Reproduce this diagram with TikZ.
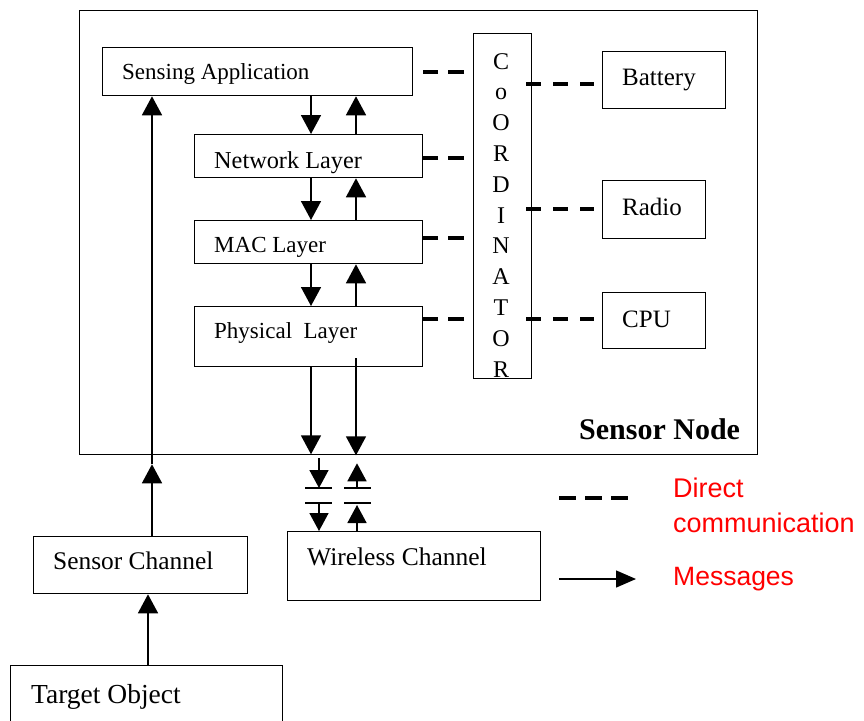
\documentclass[tikz,border=0pt]{standalone}
\usepackage{fontspec}
\setmainfont{Liberation Serif}
\newfontfamily\legfont{Liberation Sans}
\usetikzlibrary{arrows.meta}
\begin{document}
\begin{tikzpicture}[x=1pt,y=-1pt,
  box/.style={draw, line width=1.3pt, inner sep=0, anchor=north west},
  txt/.style={anchor=base west, inner sep=0},
  fsz/.style={font=\fontsize{#1}{#1}\selectfont},
  arr/.style={line width=1.6pt, -{Triangle[length=19pt,width=20pt]}},
  sarr/.style={line width=1.6pt, -{Triangle[length=18pt,width=19pt]}},
  dsh/.style={line width=3.5pt, dash pattern=on 16pt off 10pt},
  bar/.style={line width=1.6pt},
]
\useasboundingbox (0,0) rectangle (864,720);
% boxes
\node[box, minimum width=678pt, minimum height=444pt] (outer) at (79,10) {};
\node[box, minimum width=310pt, minimum height=48pt] (sa) at (102,47) {};
\node[box, minimum width=228pt, minimum height=43pt] (nl) at (194,134) {};
\node[box, minimum width=228pt, minimum height=43pt] (mac) at (194,220) {};
\node[box, minimum width=228pt, minimum height=60pt] (pl) at (194,306) {};
\node[box, minimum width=58pt, minimum height=345pt] (co) at (473,33) {};
\node[box, minimum width=123pt, minimum height=57pt] (bat) at (602,51) {};
\node[box, minimum width=103pt, minimum height=58pt] (rad) at (602,180) {};
\node[box, minimum width=103pt, minimum height=56pt] (cpu) at (602,292) {};
\node[box, minimum width=253pt, minimum height=69pt] (wc) at (287,531) {};
\node[box, minimum width=214pt, minimum height=57pt] (sc) at (33,536) {};
\node[box, minimum width=272pt, minimum height=80pt] (to) at (10,665) {};
% texts
\node[txt, fsz=23] (tsa) at (122,79) {Sensing Application};
\node[txt, fsz=24.3] (tnl) at (214,168) {Network Layer};
\node[txt, fsz=23] (tmac) at (214,252) {MAC Layer};
\node[txt, fsz=23] (tpl) at (214,338) {Physical\ \ Layer};
\node[txt, fsz=25] (tbat) at (622,85) {Battery};
\node[txt, fsz=25] (trad) at (622,215) {Radio};
\node[txt, fsz=25] (tcpu) at (622,327) {CPU};
\node[txt, fsz=25.5] (twc) at (307,565) {Wireless Channel};
\node[txt, fsz=25.4] (tsc) at (53,569) {Sensor Channel};
\node[txt, fsz=27.5] (tto) at (31,703) {Target Object};
\node[txt, fsz=30, font=\fontsize{30}{30}\selectfont\bfseries] (tsn) at (579,439) {Sensor Node};
\foreach \l [count=\i from 0] in {C,o,O,R,D,I,N,A,T,O,R}
  \node[anchor=base, inner sep=0, fsz=24] (co\i) at (501,{69+30.8*\i}) {\l};
% legend
\node[txt, text=red, font=\fontsize{27}{27}\legfont] (lg1) at (673,497) {Direct};
\node[txt, text=red, font=\fontsize{27}{27}\legfont] (lg2) at (673,532) {communication};
\node[txt, text=red, font=\fontsize{26.5}{26.5}\legfont] (lg3) at (673,585) {Messages};
\coordinate (ld1) at (559,498);
\coordinate (ld2) at (629,498);
\draw[line width=3.5pt, dash pattern=on 17pt off 9pt] (ld1) -- (ld2);
\coordinate (la1) at (559,579);
\coordinate (la2) at (636,579);
\draw[line width=1.4pt, -{Triangle[length=20pt,width=17pt]}] (la1) -- (la2);
% x / y reference coordinates
\coordinate (xd) at (311,0);
\coordinate (xu) at (356,0);
\coordinate (xsl) at (319,0);
\coordinate (xsr) at (357,0);
\coordinate (xs) at (152,0);
\coordinate (xt) at (148,0);
\coordinate (b1) at (0,488);
\coordinate (b2) at (0,503);
\coordinate (ysa) at (0,72);
\coordinate (ynl) at (0,158);
\coordinate (ymac) at (0,238);
\coordinate (ypl) at (0,319);
\coordinate (ybat) at (0,84);
\coordinate (yrad) at (0,209);
\coordinate (ycpu) at (0,319);
% layer arrows
\draw[arr] (xd |- sa.south) -- (xd |- nl.north);
\draw[arr] (xu |- nl.north) -- (xu |- sa.south);
\draw[arr] (xd |- nl.south) -- (xd |- mac.north);
\draw[arr] (xu |- mac.north) -- (xu |- nl.south);
\draw[arr] (xd |- mac.south) -- (xd |- pl.north);
\draw[arr] (xu |- pl.north) -- (xu |- mac.south);
\draw[arr] (xd |- pl.south) -- ([yshift=1pt]xd |- outer.south);
\draw[arr] ([yshift=9pt]xu |- pl.south) -- (xu |- outer.south);
% wireless link symbols
\draw[sarr] ([yshift=-3pt]xsl |- outer.south) -- (xsl |- b1);
\draw[bar] ([xshift=-14pt]xsl |- b1) -- ([xshift=13pt]xsl |- b1);
\draw[bar] ([xshift=-14pt]xsl |- b2) -- ([xshift=13pt]xsl |- b2);
\draw[sarr] (xsl |- b2) -- (xsl |- wc.north);
\draw[sarr] (xsr |- b1) -- ([yshift=-8pt]xsr |- outer.south);
\draw[bar] ([xshift=-13pt]xsr |- b1) -- ([xshift=14pt]xsr |- b1);
\draw[bar] ([xshift=-13pt]xsr |- b2) -- ([xshift=14pt]xsr |- b2);
\draw[sarr] (xsr |- wc.north) -- ([yshift=-2pt]xsr |- b2);
% sensing path
\draw[arr] (xs |- sc.north) -- ([yshift=-9pt]xs |- outer.south);
\draw[arr] ([yshift=-9pt]xs |- outer.south) -- (xs |- sa.south);
\draw[arr] (xt |- to.north) -- (xt |- sc.south);
% direct communication
\draw[dsh] ([xshift=-9pt]co.west |- ysa) -- ([xshift=10pt]sa.east |- ysa);
\draw[dsh] ([xshift=-9pt]co.west |- ynl) -- (nl.east |- ynl);
\draw[dsh] ([xshift=-9pt]co.west |- ymac) -- (mac.east |- ymac);
\draw[dsh] ([xshift=-9pt]co.west |- ypl) -- (pl.east |- ypl);
\draw[dsh, dash pattern=on 15pt off 12pt] ([xshift=-6pt]co.east |- ybat) -- ([xshift=-8pt]bat.west |- ybat);
\draw[dsh, dash pattern=on 15pt off 12pt] ([xshift=-6pt]co.east |- yrad) -- ([xshift=-8pt]rad.west |- yrad);
\draw[dsh, dash pattern=on 15pt off 12pt] ([xshift=-6pt]co.east |- ycpu) -- ([xshift=-8pt]cpu.west |- ycpu);
\end{tikzpicture}
\end{document}
